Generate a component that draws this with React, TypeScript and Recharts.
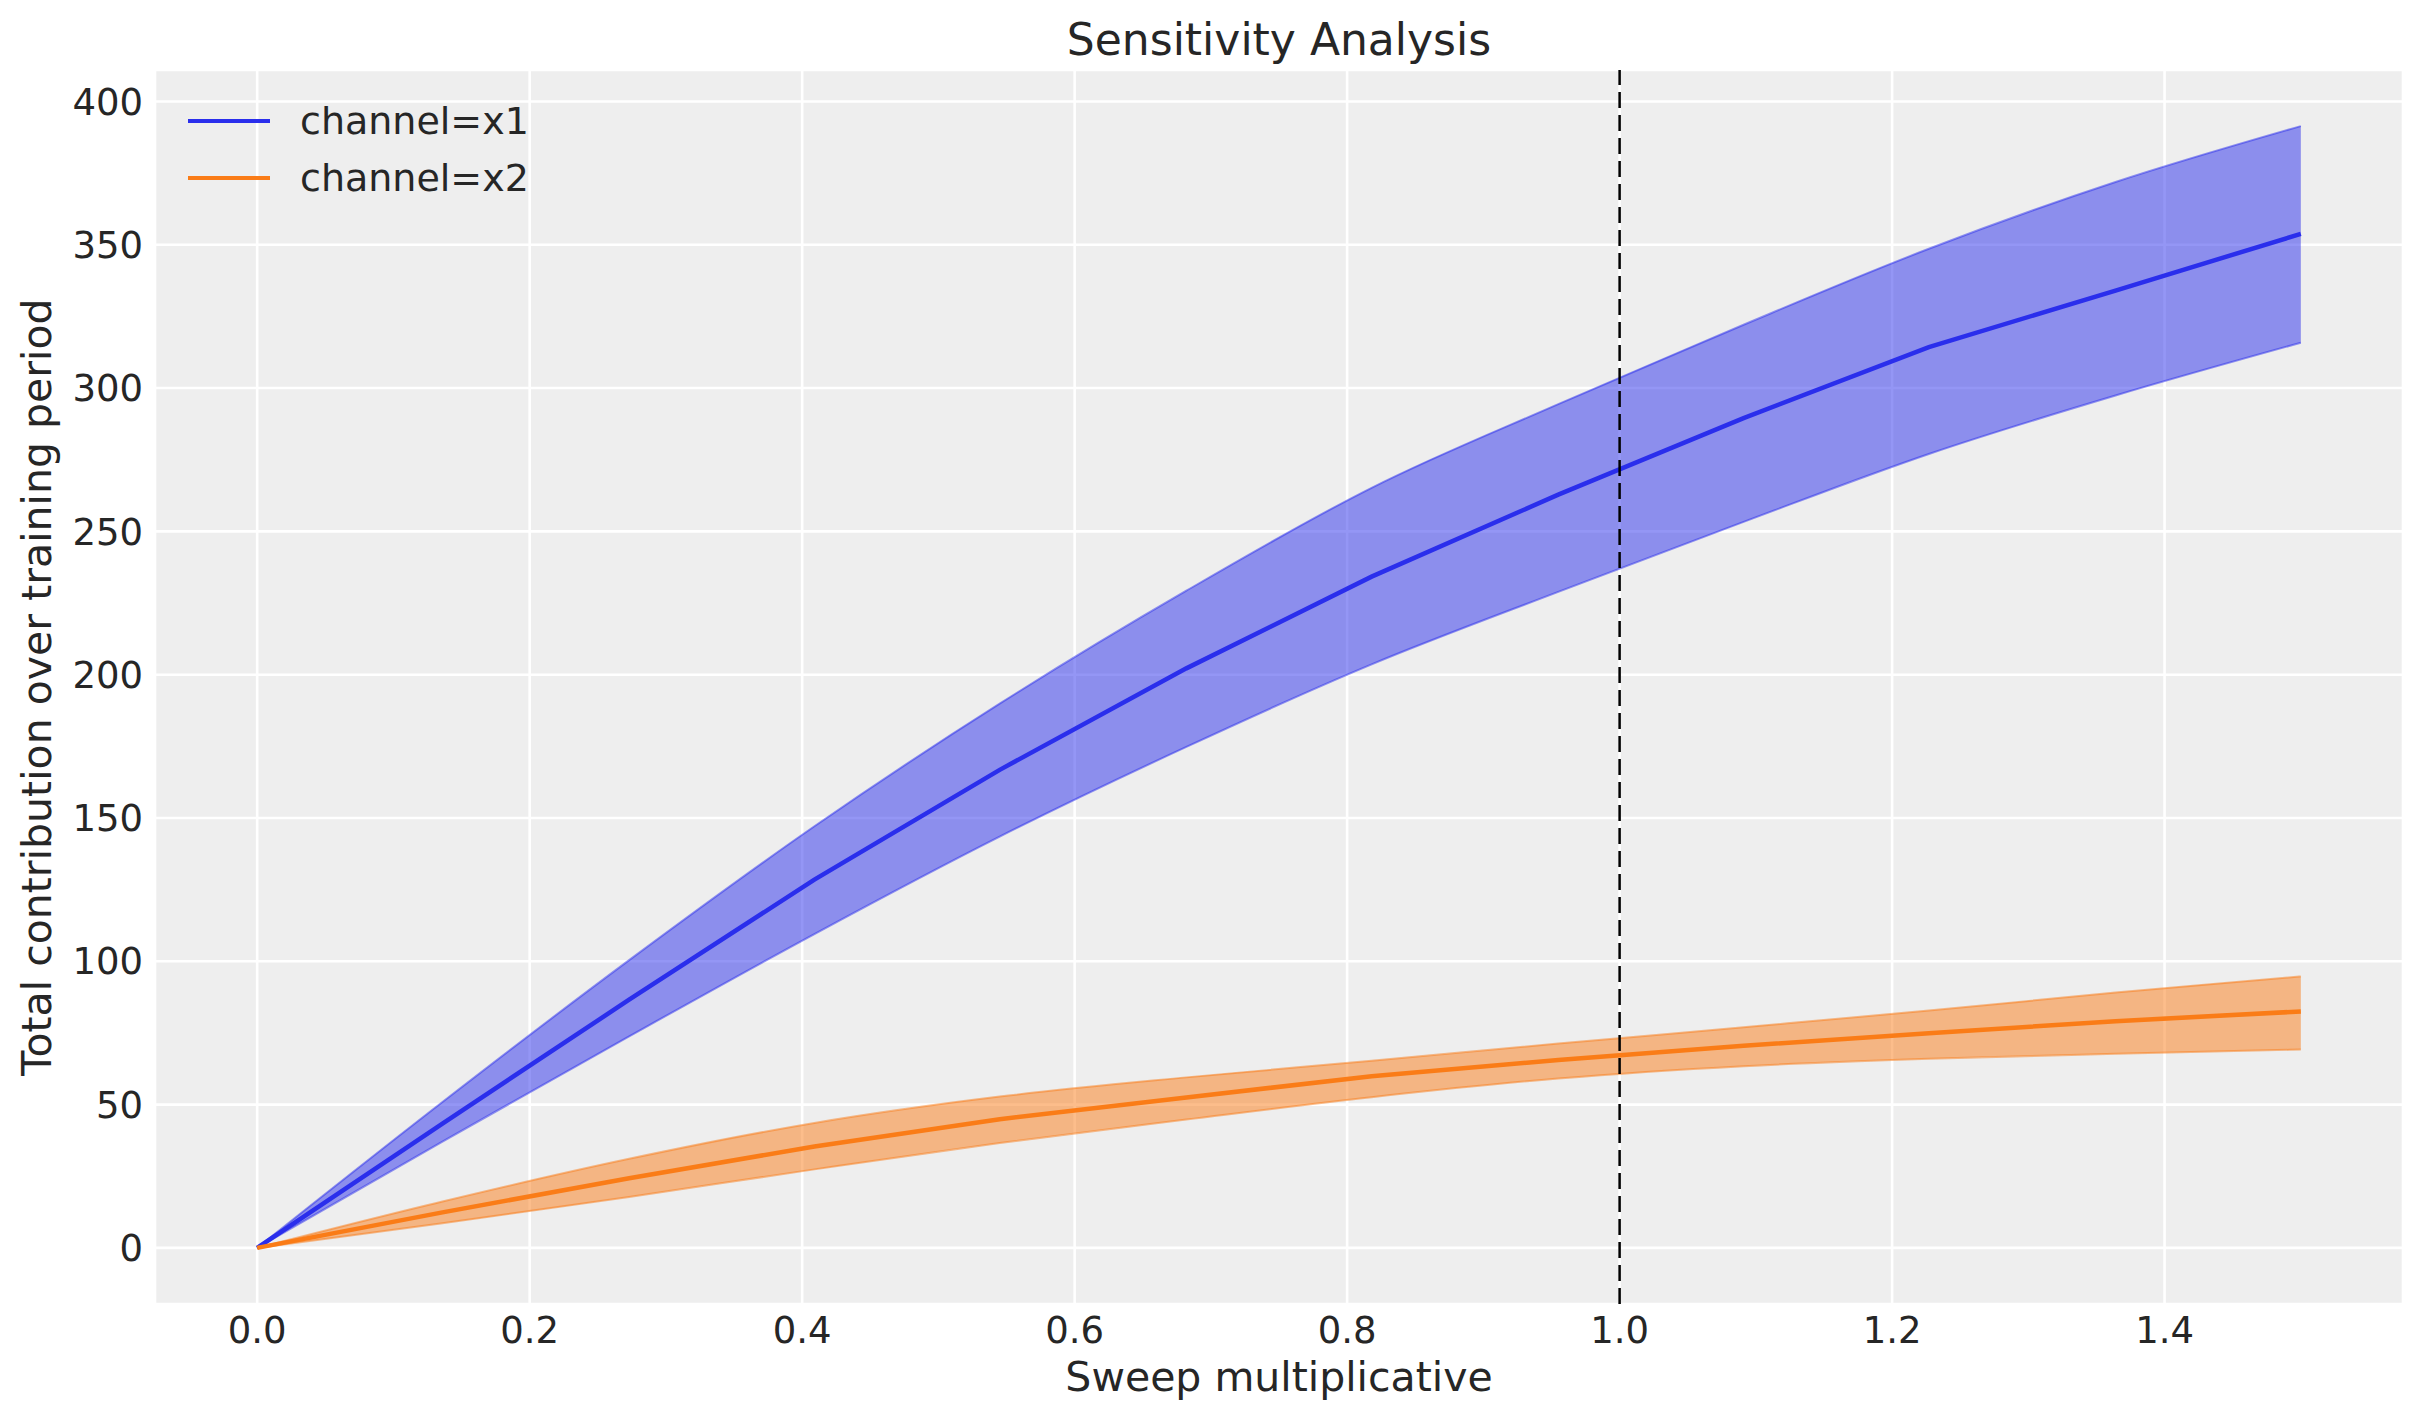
import React from 'react';
import { ComposedChart, Area, Line, XAxis, YAxis, CartesianGrid, ReferenceLine, Legend } from 'recharts';

// sweep multipliers and posterior summaries
const sweep = [0, 0.136, 0.273, 0.409, 0.545, 0.682, 0.818, 0.955, 1.091, 1.227, 1.364, 1.5];
const x1Mean = [0, 43.4, 86.6, 128.5, 166.8, 202.2, 234.2, 262.8, 289.5, 314.3, 334.0, 353.8];
const x1Upper = [0, 50.9, 100.4, 147.1, 189.9, 229.3, 265.2, 294.4, 322.1, 348.6, 371.9, 391.4];
const x1Lower = [0, 37.1, 73.8, 109.5, 143.5, 174.8, 203.6, 228.9, 253.3, 277.0, 297.4, 315.8];
const x2Mean = [0, 12.4, 24.3, 35.4, 44.9, 52.5, 59.9, 65.6, 70.5, 74.9, 79.1, 82.5];
const x2Upper = [0, 16.2, 31.1, 43.6, 52.8, 59.5, 65.3, 71.3, 77.0, 82.8, 89.1, 94.7];
const x2Lower = [0, 8.6, 17.8, 27.4, 36.6, 44.8, 52.6, 59.1, 63.4, 66.0, 67.7, 69.2];

const channels = ['channel=x1', 'channel=x2'];
const xTicks = [0, 0.2, 0.4, 0.6, 0.8, 1.0, 1.2, 1.4];
const yTicks = [0, 50, 100, 150, 200, 250, 300, 350, 400];
const referenceSweep = 1.0;

const data = sweep.map((s, i) => ({
    sweep: s,
    x1Mean: x1Mean[i],
    x1Band: [x1Lower[i], x1Upper[i]],
    x2Mean: x2Mean[i],
    x2Band: [x2Lower[i], x2Upper[i]],
}));

const BLUE = '#2a2eec';
const ORANGE = '#fa7c17';
const TEXT = '#262626';
const FONT = 'DejaVu Sans';

const W = 2423;
const H = 1423;

const renderLegend = () => (
    <div style={{ fontFamily: FONT, fontSize: 38, color: TEXT }}>
        {channels.map((name, i) => (
            <div key={name} style={{ display: 'flex', alignItems: 'center', height: 56.6 }}>
                <svg width={82} height={10} style={{ display: 'block' }}>
                    <line x1={0} y1={5} x2={82} y2={5} stroke={i === 0 ? BLUE : ORANGE} strokeWidth={4} />
                </svg>
                <span style={{ marginLeft: 30, lineHeight: '56.6px', whiteSpace: 'nowrap' }}>{name}</span>
            </div>
        ))}
    </div>
);

const App: React.FC = () => {
    return (
        <div style={{ position: 'absolute', left: 0, top: 0, width: W, height: H, background: '#ffffff' }}>
            <svg width={W} height={70} style={{ position: 'absolute', left: 0, top: 0 }}>
                <text x={1279} y={54.5} textAnchor="middle" fontFamily={FONT} fontSize={44} fill={TEXT}>
                    Sensitivity Analysis
                </text>
            </svg>
            <ComposedChart width={W} height={H} data={data} margin={{ top: 70, right: 20, bottom: 0, left: 0 }}>
                <CartesianGrid fill="#eeeeee" fillOpacity={1} stroke="#ffffff" strokeWidth={2.6} />
                <XAxis
                    dataKey="sweep"
                    type="number"
                    domain={[-0.075, 1.575]}
                    ticks={xTicks}
                    tickFormatter={(v: number) => v.toFixed(1)}
                    axisLine={false}
                    tickLine={false}
                    tickSize={0}
                    tickMargin={13}
                    height={119}
                    tick={{ fontSize: 37, fill: TEXT, fontFamily: FONT }}
                    label={{
                        content: (p: any) => {
                            const vb = p.viewBox || { x: 155, y: 1304, width: 2248, height: 119 };
                            return (
                                <text x={vb.x + vb.width / 2} y={vb.y + 87} textAnchor="middle" fontFamily={FONT} fontSize={41} fill={TEXT}>
                                    Sweep multiplicative
                                </text>
                            );
                        },
                    }}
                />
                <YAxis
                    type="number"
                    domain={[-19.57, 410.97]}
                    ticks={yTicks}
                    axisLine={false}
                    tickLine={false}
                    tickSize={0}
                    tickMargin={12}
                    width={155}
                    tick={{ fontSize: 37, fill: TEXT, fontFamily: FONT }}
                    label={{
                        content: (p: any) => {
                            const vb = p.viewBox || { x: 0, y: 70, width: 155, height: 1234 };
                            const cx = vb.x + 51;
                            const cy = vb.y + vb.height / 2;
                            return (
                                <text x={cx} y={cy} transform={`rotate(-90 ${cx} ${cy})`} textAnchor="middle" fontFamily={FONT} fontSize={41} fill={TEXT}>
                                    Total contribution over training period
                                </text>
                            );
                        },
                    }}
                />
                <Legend
                    layout="vertical"
                    align="center"
                    verticalAlign="middle"
                    content={renderLegend}
                    wrapperStyle={{ left: 188, top: 93, width: 'auto', height: 'auto' }}
                />
                <Area
                    type="monotone"
                    dataKey="x1Band"
                    fill={BLUE}
                    fillOpacity={0.5}
                    stroke={BLUE}
                    strokeOpacity={0.5}
                    strokeWidth={2}
                    isAnimationActive={false}
                    legendType="none"
                />
                <Line type="linear" dataKey="x1Mean" stroke={BLUE} strokeWidth={4.5} dot={false} isAnimationActive={false} />
                <Area
                    type="monotone"
                    dataKey="x2Band"
                    fill={ORANGE}
                    fillOpacity={0.5}
                    stroke={ORANGE}
                    strokeOpacity={0.5}
                    strokeWidth={2}
                    isAnimationActive={false}
                    legendType="none"
                />
                <Line type="linear" dataKey="x2Mean" stroke={ORANGE} strokeWidth={4.5} dot={false} isAnimationActive={false} />
                <ReferenceLine x={referenceSweep} stroke="#000000" strokeWidth={2.5} strokeDasharray="16 7" />
            </ComposedChart>
        </div>
    );
};

export default App;
